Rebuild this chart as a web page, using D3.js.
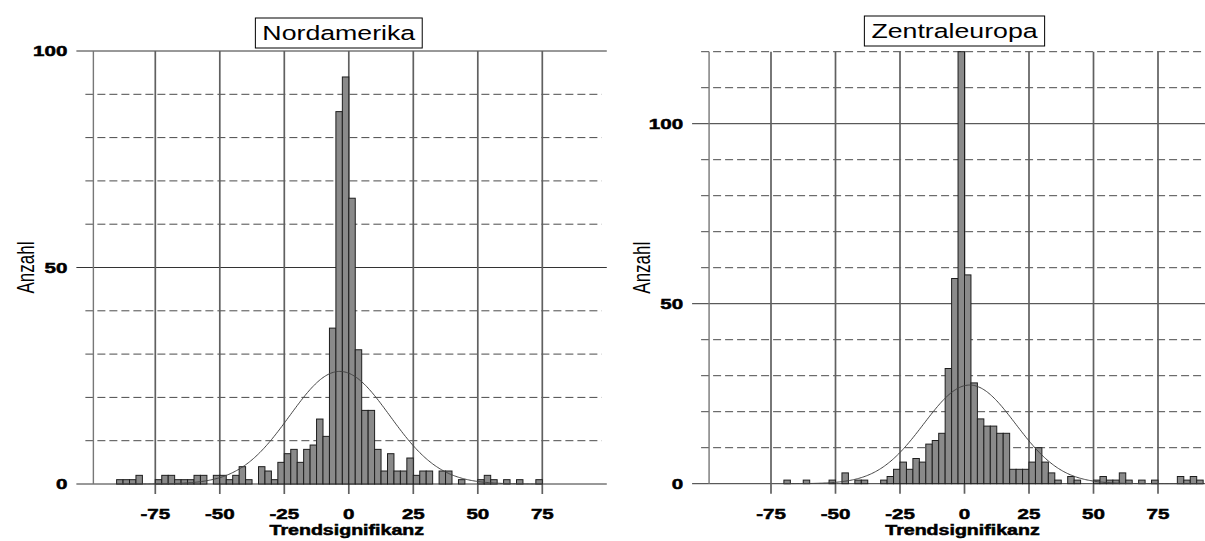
<!DOCTYPE html>
<html>
<head>
<meta charset="utf-8">
<script src="https://cdn.jsdelivr.net/npm/d3@7"></script>
<style>
  body { margin: 0; background: #fff; }
  text { font-family: 'Liberation Sans', Arial, sans-serif; fill: #000; }
</style>
</head>
<body>
<svg id="chart" width="1205" height="541"></svg>
<script>
// histogram bins are 2.5 wide, counts start at the given lower edge
const binWidth = 2.5;

const naTitle = 'Nordamerika';
const naStart = -90;
const naCounts = [
  1, 1, 1, 2, 0, 0, 1, 2,
  2, 1, 1, 1, 2, 2, 0, 2,
  2, 1, 2, 4, 1, 0, 4, 3,
  1, 5, 7, 8, 5, 8, 9, 15,
  11, 36, 86, 94, 66, 31, 17, 17,
  8, 3, 7, 3, 3, 6, 2, 3,
  3, 0, 3, 3, 0, 1, 0, 0,
  1, 2, 1, 0, 1, 0, 1, 0,
  0, 1,
];
const naYTicks = [0, 50, 100];
const naNormal = { mean: -3.5, sd: 19.4, peak: 26 };

const zeTitle = 'Zentraleuropa';
const zeStart = -70;
const zeCounts = [
  1, 0, 0, 1, 0, 0, 0, 1,
  0, 3, 0, 1, 1, 0, 0, 1,
  2, 4, 6, 4, 7, 6, 11, 12,
  14, 32, 57, 120, 58, 28, 18, 16,
  16, 14, 14, 4, 4, 4, 6, 10,
  6, 3, 1, 0, 2, 1, 0, 0,
  1, 2, 1, 1, 3, 1, 0, 1,
  0, 1, 0, 0, 0, 2, 1, 2,
  1,
];
const zeYTicks = [0, 50, 100];
const zeNormal = { mean: 2, sd: 17.8, peak: 27.4 };

const xTicks = [-75, -50, -25, 0, 25, 50, 75];
const xLabel = 'Trendsignifikanz';
const yLabel = 'Anzahl';

const stretch = 1.37; // the source raster is wider than tall
const svg = d3.select('#chart');

const addText = (g, x, y, str, opts = {}) => {
  const t = g.append('text')
    .attr('transform', `translate(${x},${y}) scale(${stretch},1)${opts.rotate ? ' rotate(-90)' : ''}`)
    .attr('text-anchor', opts.anchor || 'middle')
    .attr('font-size', opts.size || 15)
    .attr('font-weight', opts.bold ? 700 : 400)
    .text(str);
  if (opts.middle) t.attr('dominant-baseline', 'central');
  if (opts.bold) t.attr('stroke', '#000').attr('stroke-width', 0.5);
  return t;
};

const drawPanel = cfg => {
  const g = svg.append('g');
  const x = d3.scaleLinear().domain([-100, 100]).range(cfg.xRange);
  const y = d3.scaleLinear().domain([0, cfg.yMax]).range([cfg.yRange[0], cfg.yRange[1]]);
  const border = x(-99);

  // horizontal grid: solid on labelled ticks, dashed every 10
  const hLines = d3.range(0, cfg.yMax + 1, 10);
  g.append('g').selectAll('line')
    .data(hLines)
    .join('line')
    .attr('x1', d => cfg.yTicks.includes(d) ? border - 17 : border - 8)
    .attr('x2', d => cfg.yTicks.includes(d) ? x(100) : x(98))
    .attr('y1', d => y(d))
    .attr('y2', d => y(d))
    .attr('stroke', d => cfg.yTicks.includes(d) ? '#333' : '#4a4a4a')
    .attr('stroke-width', 1)
    .attr('stroke-dasharray', d => cfg.yTicks.includes(d) ? null : '8 4');

  // vertical grid with ticks hanging below the base line
  g.append('g').selectAll('line')
    .data(xTicks)
    .join('line')
    .attr('x1', d => x(d))
    .attr('x2', d => x(d))
    .attr('y1', y(cfg.yMax))
    .attr('y2', y(0) + 10)
    .attr('stroke', '#606060')
    .attr('stroke-width', 1.7);

  g.append('line')
    .attr('x1', border)
    .attr('x2', border)
    .attr('y1', y(cfg.yMax))
    .attr('y2', y(0))
    .attr('stroke', '#777')
    .attr('stroke-width', 1.4);

  // bars
  const bins = cfg.counts
    .map((c, i) => ({ x0: cfg.start + i * binWidth, x1: cfg.start + (i + 1) * binWidth, c }))
    .filter(d => d.c > 0);

  g.append('g').selectAll('rect')
    .data(bins)
    .join('rect')
    .attr('x', d => x(d.x0))
    .attr('width', d => x(d.x1) - x(d.x0))
    .attr('y', d => y(d.c))
    .attr('height', d => y(0) - y(d.c))
    .attr('fill', '#8a8a8a')
    .attr('stroke', '#1e1e1e')
    .attr('stroke-width', 1);

  // fitted normal curve
  const n = cfg.normal;
  const lo = cfg.start;
  const hi = cfg.start + cfg.counts.length * binWidth;
  const pts = d3.range(lo, hi + 0.01, 0.5)
    .map(v => [v, n.peak * Math.exp(-((v - n.mean) ** 2) / (2 * n.sd * n.sd))]);
  g.append('path')
    .datum(pts)
    .attr('fill', 'none')
    .attr('stroke', '#444')
    .attr('stroke-width', 1)
    .attr('d', d3.line().x(d => x(d[0])).y(d => y(d[1])));

  // y labels
  cfg.yTicks.forEach(v => addText(g, border - 26, y(v), v, { anchor: 'end', bold: true, size: 15, middle: true }));
  addText(g, border - 67, (y(0) + y(cfg.yMax)) / 2, yLabel, { rotate: true, size: 17, middle: true });

  // x labels
  xTicks.forEach(v => addText(g, x(v), y(0) + 35, v, { bold: true, size: 15 }));
  addText(g, x(0) - 2, y(0) + 51, xLabel, { bold: true, size: 14.3 });

  // boxed title
  const tg = g.append('g');
  const title = addText(tg, x(0) - 10, cfg.titleY, cfg.title, { size: 19.5, middle: true });
  const bb = title.node().getBBox();
  const w = bb.width * stretch + 14;
  tg.insert('rect', 'text')
    .attr('x', x(0) - 10 - w / 2)
    .attr('y', cfg.titleY - 15)
    .attr('width', w)
    .attr('height', 30)
    .attr('fill', '#fff')
    .attr('stroke', '#000')
    .attr('stroke-width', 1);
};

drawPanel({
  title: naTitle, counts: naCounts, start: naStart, yTicks: naYTicks, normal: naNormal,
  yMax: 100, xRange: [90.8, 606.8], yRange: [484, 51], titleY: 33,
});

drawPanel({
  title: zeTitle, counts: zeCounts, start: zeStart, yTicks: zeYTicks, normal: zeNormal,
  yMax: 120, xRange: [706.5, 1222.5], yRange: [483.7, 51.7], titleY: 31,
});
</script>
</body>
</html>
